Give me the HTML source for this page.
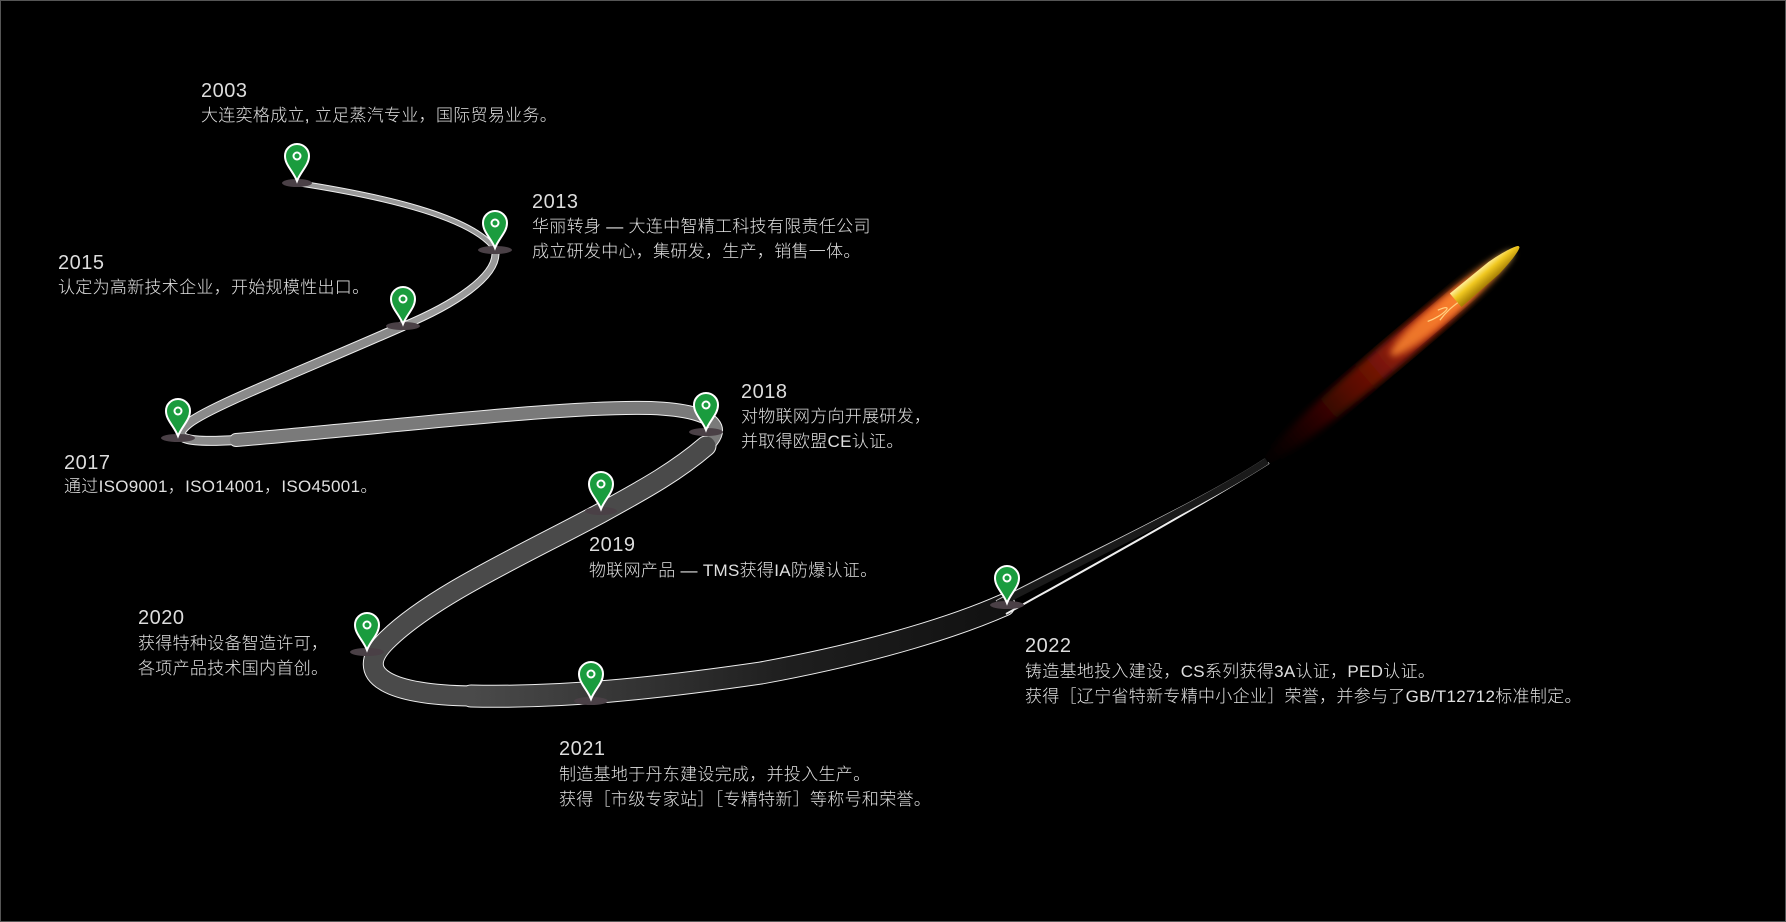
<!DOCTYPE html>
<html><head><meta charset="utf-8"><style>
html,body{margin:0;padding:0;background:#000;}
#c{position:relative;width:1786px;height:922px;background:#000;overflow:hidden;box-sizing:border-box;border:1px solid #555;font-family:"Liberation Sans","Noto Sans CJK SC",sans-serif;color:#e6e6e6;}
.t{position:absolute;white-space:nowrap;}
.y{font-size:20px;line-height:20px;font-weight:300;letter-spacing:0.5px;color:#ddd}
.d{font-size:17px;line-height:25px;font-weight:300;letter-spacing:0.3px;color:#e0e0e0}
svg{position:absolute;left:0;top:0}
</style></head><body><div id="c">
<svg width="1786" height="922" viewBox="0 0 1786 922">
<defs>
<linearGradient id="gF" x1="0" y1="0" x2="1" y2="0"><stop offset="0" stop-color="#4a4a4a"/><stop offset="0.6" stop-color="#1e1e1e"/><stop offset="1" stop-color="#111"/></linearGradient>
<linearGradient id="flame" x1="0" y1="0" x2="1" y2="0"><stop offset="0" stop-color="#300" stop-opacity="0"/><stop offset="0.35" stop-color="#7a1005" stop-opacity="0.7"/><stop offset="0.7" stop-color="#c83010"/><stop offset="0.9" stop-color="#ff9030"/><stop offset="1" stop-color="#ffd070"/></linearGradient>
<linearGradient id="gold" x1="0" y1="0" x2="0" y2="1"><stop offset="0" stop-color="#fff0a0"/><stop offset="0.4" stop-color="#f0c820"/><stop offset="1" stop-color="#a07800"/></linearGradient>
<filter id="bl"><feGaussianBlur stdDeviation="3.5"/></filter>
<g id="pin"><path d="M0,0 C-4,-10 -12,-16 -12,-25 A12,12 0 1 1 12,-25 C12,-16 4,-10 0,0Z" fill="#1a9c3e" stroke="#fff" stroke-width="2"/><circle cx="0" cy="-25" r="4.5" fill="#fff"/><circle cx="0" cy="-25" r="2.5" fill="#1a9c3e"/></g>
</defs>
<g fill="none" stroke="#eee" stroke-linecap="round">
<path d="M296,182 C380,195 470,215 494,248" stroke-width="6"/>
<path d="M494,248 C500,275 450,305 402,325" stroke-width="8"/>
<path d="M402,325 C300,370 210,405 188,422 C168,438 185,442 235,439" stroke-width="10"/>
<path d="M235,439 C400,425 560,405 650,407 C725,410 722,432 705,445" stroke-width="14"/>
<path d="M705,445 C670,475 630,495 600,512 C520,555 430,595 385,640 C350,675 390,694 470,695" stroke-width="21"/>
<path d="M470,695 C560,697 650,688 760,672 C880,650 960,623 1003,604" stroke-width="23"/>
</g>
<g fill="none" stroke-linecap="round">
<path d="M296,182 C380,195 470,215 494,248" stroke="#999" stroke-width="4"/>
<path d="M494,248 C500,275 450,305 402,325" stroke="#999" stroke-width="6"/>
<path d="M402,325 C300,370 210,405 188,422 C168,438 185,442 235,439" stroke="#8a8a8a" stroke-width="8"/>
<path d="M235,439 C400,425 560,405 650,407 C725,410 722,432 705,445" stroke="#7a7a7a" stroke-width="12"/>
<path d="M705,445 C670,475 630,495 600,512 C520,555 430,595 385,640 C350,675 390,694 470,695" stroke="#4a4a4a" stroke-width="19"/>
<path d="M470,695 C560,697 650,688 760,672 C880,650 960,623 1003,604" stroke="url(#gF)" stroke-width="21"/>
</g>
<path d="M995,600 C1100,545 1200,500 1264,458" fill="none" stroke="#ccc" stroke-width="1.5"/>
<path d="M1005,613 C1100,560 1200,505 1268,462" fill="none" stroke="#eee" stroke-width="2"/>
<path d="M997,603 C1100,550 1200,503 1266,460" fill="none" stroke="#1a1a1a" stroke-width="7"/>
<g transform="translate(1264,461) rotate(-40.3)">
<ellipse cx="160" cy="0" rx="165" ry="14" fill="url(#flame)" filter="url(#bl)"/>
<ellipse cx="225" cy="0" rx="60" ry="10" fill="#ff8a30" opacity="0.8" filter="url(#bl)"/>
<path d="M230,-4 C250,2 230,4 215,-2 M225,5 C245,0 255,6 270,2" stroke="#ffd080" stroke-width="1.2" fill="none"/>
<path d="M250,-9 L300,-8 C320,-6 335,-2 333,0 C335,2 320,6 300,8 L250,9 Z" fill="url(#gold)"/>
</g>
<g fill="#4a4046">
<ellipse cx="296" cy="182" rx="15" ry="4"/><ellipse cx="494" cy="249" rx="17" ry="4"/><ellipse cx="402" cy="325" rx="17" ry="4"/><ellipse cx="177" cy="437" rx="17" ry="4"/><ellipse cx="705" cy="431" rx="17" ry="4"/><ellipse cx="600" cy="510" rx="16" ry="4"/><ellipse cx="366" cy="651" rx="17" ry="4"/><ellipse cx="590" cy="700" rx="17" ry="4"/><ellipse cx="1006" cy="604" rx="17" ry="4"/>
</g>
<use href="#pin" x="296" y="180"/><use href="#pin" x="494" y="247"/><use href="#pin" x="402" y="323"/><use href="#pin" x="177" y="435"/><use href="#pin" x="705" y="429"/><use href="#pin" x="600" y="508"/><use href="#pin" x="366" y="649"/><use href="#pin" x="590" y="698"/><use href="#pin" x="1006" y="602"/>
</svg>
<div class="t y" style="left:200px;top:80px">2003</div>
<div class="t d" style="left:200px;top:102px">大连奕格成立, 立足蒸汽专业，国际贸易业务。</div>
<div class="t y" style="left:531px;top:191px">2013</div>
<div class="t d" style="left:531px;top:213px">华丽转身 — 大连中智精工科技有限责任公司<br>成立研发中心，集研发，生产，销售一体。</div>
<div class="t y" style="left:57px;top:252px">2015</div>
<div class="t d" style="left:57px;top:274px">认定为高新技术企业，开始规模性出口。</div>
<div class="t y" style="left:63px;top:452px">2017</div>
<div class="t d" style="left:63px;top:473px">通过ISO9001，ISO14001，ISO45001。</div>
<div class="t y" style="left:740px;top:381px">2018</div>
<div class="t d" style="left:740px;top:403px">对物联网方向开展研发，<br>并取得欧盟CE认证。</div>
<div class="t y" style="left:588px;top:534px">2019</div>
<div class="t d" style="left:588px;top:557px">物联网产品 — TMS获得IA防爆认证。</div>
<div class="t y" style="left:137px;top:607px">2020</div>
<div class="t d" style="left:137px;top:630px">获得特种设备智造许可，<br>各项产品技术国内首创。</div>
<div class="t y" style="left:558px;top:738px">2021</div>
<div class="t d" style="left:558px;top:761px">制造基地于丹东建设完成，并投入生产。<br>获得［市级专家站］［专精特新］等称号和荣誉。</div>
<div class="t y" style="left:1024px;top:635px">2022</div>
<div class="t d" style="left:1024px;top:658px">铸造基地投入建设，CS系列获得3A认证，PED认证。<br>获得［辽宁省特新专精中小企业］荣誉，并参与了GB/T12712标准制定。</div>
</div></body></html>
